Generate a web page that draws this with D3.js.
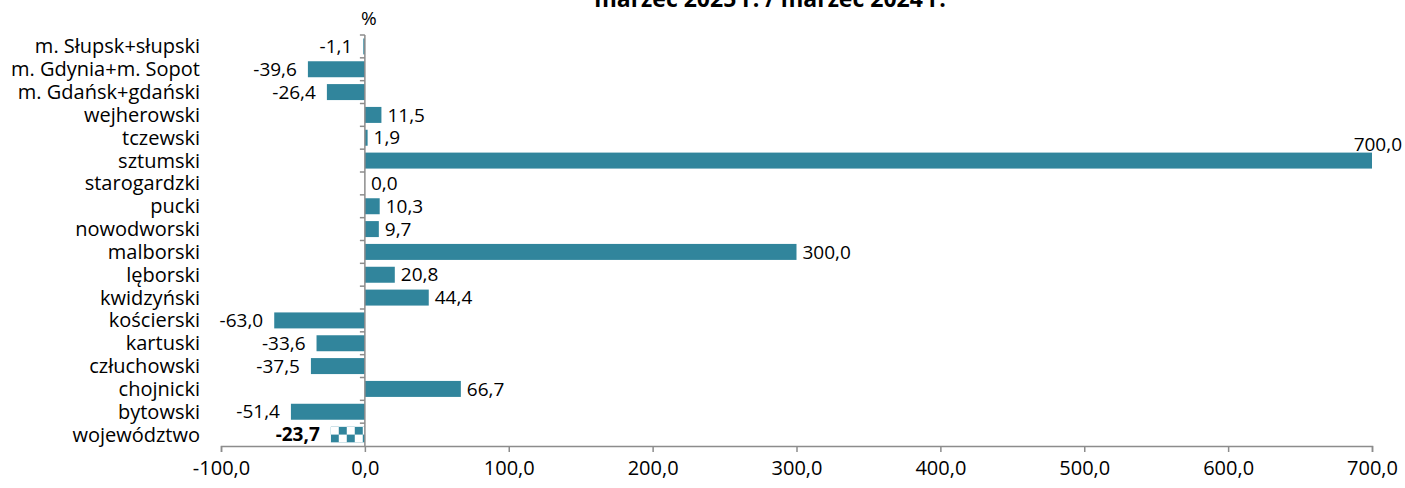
<!DOCTYPE html>
<html>
<head>
<meta charset="utf-8">
<script src="https://cdn.jsdelivr.net/npm/d3@7"></script>
<style>
    body { margin: 0; background: #fff; }
    svg { font-family: "Open Sans", Lato, sans-serif; }
</style>
</head>
<body>
<div id="chart"></div>
<script>
const regions = [
    'm. Słupsk+słupski', 'm. Gdynia+m. Sopot', 'm. Gdańsk+gdański', 'wejherowski',
    'tczewski', 'sztumski', 'starogardzki', 'pucki', 'nowodworski', 'malborski',
    'lęborski', 'kwidzyński', 'kościerski', 'kartuski', 'człuchowski', 'chojnicki',
    'bytowski', 'województwo'
];
const changes = [
    -1.1, -39.6, -26.4, 11.5, 1.9, 700.0, 0.0, 10.3, 9.7, 300.0,
    20.8, 44.4, -63.0, -33.6, -37.5, 66.7, -51.4, -23.7
];
const xTicks = [-100, 0, 100, 200, 300, 400, 500, 600, 700];
const title = 'marzec 2025 r. / marzec 2024 r.';

const width = 1405;
const height = 488;
const barColor = '#31859c';
const axisColor = '#8c8c8c';
const fmt = v => v.toFixed(1).replace('.', ',');

const data = regions.map((name, i) => ({ name, value: changes[i] }));

const svg = d3.select('#chart').append('svg')
    .attr('width', width)
    .attr('height', height);

const x = d3.scaleLinear().domain([-100, 700]).range([221, 1372]);
const y = d3.scaleBand().domain(regions).range([35, 446]).paddingInner(0.3).paddingOuter(0.15);
const band = d3.scaleBand().domain(regions).range([35, 446]);

// checkerboard fill for the voivodeship bar
const last = regions[regions.length - 1];
const pat = svg.append('defs').append('pattern')
    .attr('id', 'checker')
    .attr('patternUnits', 'userSpaceOnUse')
    .attr('width', 16).attr('height', 16)
    .attr('x', x(changes[changes.length - 1])).attr('y', y(last));
pat.append('rect').attr('width', 16).attr('height', 16).attr('fill', '#fff');
pat.append('rect').attr('x', 8).attr('width', 8).attr('height', 8).attr('fill', barColor);
pat.append('rect').attr('y', 8).attr('width', 8).attr('height', 8).attr('fill', barColor);

// title (partly clipped at top, as in the source)
svg.append('text')
    .attr('x', 770).attr('y', 7)
    .attr('text-anchor', 'middle')
    .attr('font-weight', 'bold')
    .attr('font-size', 23)
    .text(title);

// bars
svg.append('g').selectAll('rect')
    .data(data)
    .join('rect')
    .attr('x', d => x(Math.min(0, d.value)))
    .attr('y', d => y(d.name))
    .attr('width', d => Math.abs(x(d.value) - x(0)))
    .attr('height', y.bandwidth())
    .attr('fill', d => d.name === last ? 'url(#checker)' : barColor);

// x axis
const xAxis = svg.append('g')
    .attr('transform', `translate(0,${446})`)
    .call(d3.axisBottom(x).tickValues(xTicks).tickSize(6).tickFormat(fmt));
xAxis.select('.domain').attr('stroke', axisColor).attr('stroke-width', 1.5);
xAxis.selectAll('.tick line').attr('stroke', axisColor).attr('stroke-width', 1.5);
xAxis.selectAll('.tick text')
    .attr('font-family', '"Open Sans", sans-serif')
    .attr('font-size', 20).attr('fill', '#000').attr('dy', '1.0em');

// y axis at zero
const yAxisG = svg.append('g').attr('transform', `translate(${x(0)},0)`);
yAxisG.append('line')
    .attr('y1', 35).attr('y2', 446)
    .attr('stroke', axisColor).attr('stroke-width', 1.5);
yAxisG.selectAll('line.tk')
    .data(regions)
    .join('line')
    .attr('class', 'tk')
    .attr('x1', -5).attr('x2', 0)
    .attr('y1', d => band(d)).attr('y2', d => band(d))
    .attr('stroke', axisColor).attr('stroke-width', 1.5);

svg.append('text')
    .attr('x', x(0) + 4).attr('y', 25)
    .attr('text-anchor', 'middle')
    .attr('font-size', 19)
    .text('%');

// category labels
svg.append('g').selectAll('text')
    .data(data)
    .join('text')
    .attr('x', 200)
    .attr('y', d => band(d.name) + band.bandwidth() / 2)
    .attr('dy', '0.35em')
    .attr('text-anchor', 'end')
    .attr('font-size', 20)
    .text(d => d.name);

// value labels; the longest bar gets its label above the bar end
const maxVal = d3.max(changes);
svg.append('g').selectAll('text')
    .data(data)
    .join('text')
    .attr('x', d => {
        if (d.value === maxVal) return 1402;
        return d.value < 0 ? x(d.value) - 11 : x(d.value) + 6;
    })
    .attr('y', d => d.value === maxVal
        ? band(d.name) - 5
        : band(d.name) + band.bandwidth() / 2)
    .attr('dy', '0.35em')
    .attr('text-anchor', d => (d.value < 0 || d.value === maxVal) ? 'end' : 'start')
    .attr('font-size', 19)
    .attr('font-weight', d => d.name === last ? 'bold' : 'normal')
    .text(d => fmt(d.value));
</script>
</body>
</html>
